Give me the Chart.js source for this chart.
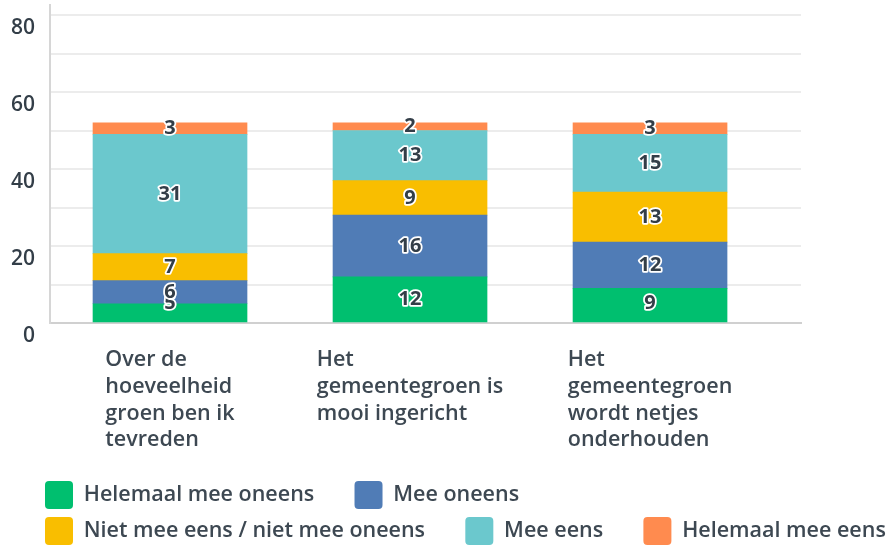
<!DOCTYPE html>
<html>
<head>
<meta charset="utf-8">
<script src="https://cdn.jsdelivr.net/npm/chart.js@4"></script>
<style>
  html, body { margin: 0; padding: 0; background: #ffffff; }
  #wrap { width: 891px; height: 548px; }
</style>
</head>
<body>
<div id="wrap"><canvas id="c" width="891" height="548"></canvas></div>
<script>
// ---- data ----
const categories = [
  ["Over de", "hoeveelheid", "groen ben ik", "tevreden"],
  ["Het", "gemeentegroen is", "mooi ingericht"],
  ["Het", "gemeentegroen", "wordt netjes", "onderhouden"]
];
const seriesNames = [
  "Helemaal mee oneens",
  "Mee oneens",
  "Niet mee eens / niet mee oneens",
  "Mee eens",
  "Helemaal mee eens"
];
const helemaalMeeOneens = [5, 12, 9];
const meeOneens = [6, 16, 12];
const neutraal = [7, 9, 13];
const meeEens = [31, 13, 15];
const helemaalMeeEens = [3, 2, 3];
const yTickLabels = [0, 20, 40, 60, 80];

const seriesValues = [helemaalMeeOneens, meeOneens, neutraal, meeEens, helemaalMeeEens];
const colors = ["#00bf6f", "#507cb6", "#f9be00", "#6bc8cd", "#ff8b4f"];

const FONT = '"Open Sans", "Noto Sans", sans-serif';
const TEXT = "#333e48";

const datasets = seriesNames.map((name, k) => ({
  label: name,
  data: seriesValues[k].map((v, i) => ({ x: i, y: v })),
  backgroundColor: colors[k],
  borderWidth: 0,
  barThickness: 154
}));

// value labels inside segments + x category labels
const labelPlugin = {
  id: 'labels',
  afterLayout(chart) {
    // legend rows start aligned with the plot's left edge
    if (chart.legend) {
      const shift = 37 - chart.legend.left;
      chart.legend.left += shift;
      chart.legend.right += shift;
    }
  },
  afterDatasetsDraw(chart) {
    const ctx = chart.ctx;
    const area = chart.chartArea;
    ctx.save();
    ctx.font = '700 20px ' + FONT;
    ctx.textAlign = 'center';
    ctx.textBaseline = 'middle';
    ctx.lineJoin = 'round';
    chart.data.datasets.forEach((ds, k) => {
      const meta = chart.getDatasetMeta(k);
      meta.data.forEach((el, i) => {
        const v = seriesValues[k][i];
        let y = (el.y + el.base) / 2;
        y = Math.min(y, area.bottom - 20);
        ctx.lineWidth = 3.5;
        ctx.strokeStyle = '#ffffff';
        ctx.strokeText(String(v), el.x, y);
        ctx.fillStyle = TEXT;
        ctx.fillText(String(v), el.x, y);
      });
    });
    ctx.restore();
  },
  afterDraw(chart) {
    const ctx = chart.ctx;
    const xs = chart.scales.x;
    const area = chart.chartArea;
    ctx.save();
    ctx.font = '600 21.5px ' + FONT;
    ctx.fillStyle = '#3d4852';
    ctx.textAlign = 'left';
    ctx.textBaseline = 'middle';
    categories.forEach((lines, i) => {
      const cx = xs.getPixelForValue(i);
      const w = Math.max(...lines.map(l => ctx.measureText(l).width));
      const left = cx - w / 2;
      lines.forEach((l, j) => ctx.fillText(l, left, area.bottom + 37 + j * 26.7));
    });
    ctx.restore();
  }
};

new Chart(document.getElementById('c'), {
  type: 'bar',
  data: { datasets },
  plugins: [labelPlugin],
  options: {
    responsive: false,
    animation: false,
    devicePixelRatio: 1,
    layout: { padding: { left: 0, right: 0, top: 5, bottom: -7 } },
    scales: {
      x: {
        type: 'linear',
        stacked: true,
        offset: false,
        min: -0.5,
        max: 2.629,
        grid: { display: false },
        border: { display: true, color: '#d0d0d0', width: 2 },
        ticks: { display: false },
        afterFit: s => { s.height = 150; s.paddingLeft = 0; s.paddingRight = 0; }
      },
      y: {
        stacked: true,
        min: 0,
        max: 82.6,
        border: { display: true, color: '#d6d6d6', width: 2 },
        grid: {
          drawTicks: false,
          color: c => (c.tick && c.tick.value % 10 === 0 && c.tick.value > 0) ? '#ececec' : 'rgba(0,0,0,0)',
          lineWidth: 2
        },
        ticks: {
          stepSize: 10,
          includeBounds: false,
          autoSkip: false,
          padding: 15,
          labelOffset: 13,
          color: TEXT,
          font: { family: FONT, size: 21, weight: '600' },
          callback: v => yTickLabels.includes(v) ? String(v) : ''
        },
        afterFit: s => { s.width = 50; s.paddingTop = 0; s.paddingBottom = 0; }
      },
      yR: {
        position: 'right',
        display: true,
        grid: { display: false, drawOnChartArea: false },
        border: { display: false },
        ticks: { display: false },
        afterFit: s => { s.width = 90; s.paddingTop = 0; s.paddingBottom = 0; }
      }
    },
    plugins: {
      tooltip: { enabled: false },
      legend: {
        position: 'bottom',
        align: 'start',
        labels: {
          boxWidth: 28,
          boxHeight: 28,
          padding: 8,
          useBorderRadius: true,
          borderRadius: 4,
          color: '#3d4852',
          font: { family: FONT, size: 21.5, weight: '600' },
          generateLabels: chart => {
            const items = Chart.defaults.plugins.legend.labels.generateLabels(chart);
            return items.map((it, i) => {
              if (i === 0 || i === 2 || i === 3) it.text = it.text + '\u2002\u2002\u2002';
              return it;
            });
          }
        }
      }
    }
  }
});
</script>
</body>
</html>
